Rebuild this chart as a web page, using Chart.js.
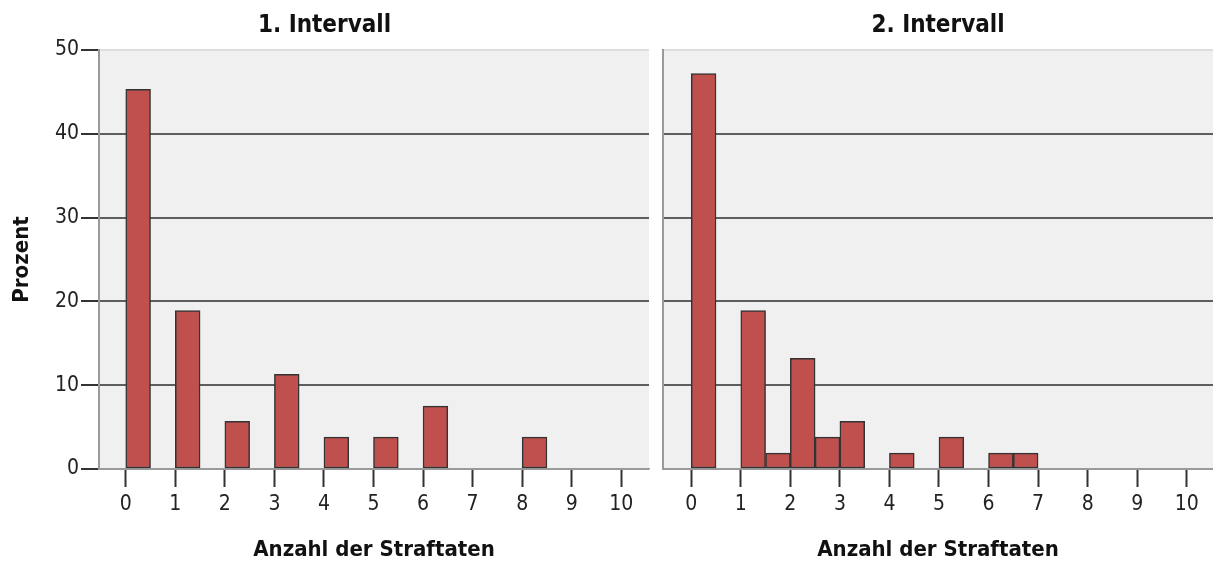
<!DOCTYPE html>
<html>
<head>
<meta charset="utf-8">
<script src="https://cdn.jsdelivr.net/npm/chart.js@4/dist/chart.umd.min.js"></script>
<style>
  html, body { margin: 0; padding: 0; background: #fff; }
  #wrap { position: relative; width: 1213px; height: 562px; }
  #c1 { position: absolute; left: 0; top: 0; }
  #c2 { position: absolute; left: 656px; top: 0; }
</style>
</head>
<body>
<div id="wrap">
  <canvas id="c1" width="656" height="562"></canvas>
  <canvas id="c2" width="557" height="562"></canvas>
</div>
<script>
// ---- data ----
const panelTitles = ['1. Intervall', '2. Intervall'];
const xAxisTitle = 'Anzahl der Straftaten';
const yAxisTitle = 'Prozent';
const binWidth = 0.5;
const binStarts = [0, 0.5, 1, 1.5, 2, 2.5, 3, 3.5, 4, 4.5, 5, 5.5, 6, 6.5, 7, 7.5, 8, 8.5, 9, 9.5, 10];
const pctInterval1 = [45.3, null, 18.9, null, 5.7, null, 11.3, null, 3.8, null, 3.8, null, 7.5, null, null, null, 3.8, null, null, null, null];
const pctInterval2 = [47.2, null, 18.9, 1.9, 13.2, 3.8, 5.7, null, 1.9, null, 3.8, null, 1.9, 1.9, null, null, null, null, null, null, null];
const yTicks = [0, 10, 20, 30, 40, 50];
const xTickValues = [0, 1, 2, 3, 4, 5, 6, 7, 8, 9, 10];

// ---- styles ----
const FONT = "'DejaVu Sans Condensed', 'DejaVu Sans', sans-serif";
Chart.defaults.font.family = FONT;
Chart.defaults.color = '#222';

const plotBg = {
  id: 'plotBg',
  beforeDraw(chart) {
    const { ctx, chartArea: a } = chart;
    ctx.save();
    ctx.fillStyle = '#f0f0f0';
    ctx.fillRect(a.left, a.top, a.right - a.left, a.bottom - a.top);
    ctx.restore();
  }
};

function makeChart(canvasId, title, values, showY, xmin, xmax, padLeft, padRight) {
  const data = binStarts.map((b, i) => ({ x: b + binWidth / 2, y: values[i] }));
  return new Chart(document.getElementById(canvasId), {
    type: 'bar',
    data: {
      datasets: [{
        data: data,
        backgroundColor: '#c0504d',
        borderColor: '#333',
        borderWidth: 1.5,
        borderSkipped: false,
        barPercentage: 1,
        categoryPercentage: 1
      }]
    },
    options: {
      responsive: false,
      animation: false,
      layout: { padding: { left: padLeft, right: padRight, top: 0, bottom: 0 } },
      plugins: {
        legend: { display: false },
        tooltip: { enabled: false },
        title: {
          display: true,
          text: title,
          font: { size: 24, weight: 'bold', lineHeight: 1.2 },
          color: '#111',
          padding: { top: 11, bottom: 10.2 }
        }
      },
      scales: {
        x: {
          type: 'linear',
          offset: false,
          min: xmin,
          max: xmax,
          afterBuildTicks(scale) {
            scale.ticks = xTickValues.map(v => ({ value: v }));
          },
          afterFit(scale) { scale.height = 93; },
          ticks: {
            font: { size: 21 },
            color: '#222',
            padding: 5,
            maxRotation: 0,
            autoSkip: false
          },
          grid: {
            drawOnChartArea: false,
            drawTicks: true,
            offset: false,
            tickLength: 18,
            tickColor: '#333',
            tickWidth: 2
          },
          border: { display: true, color: '#9a9a9a', width: 1.5 },
          title: {
            display: true,
            text: xAxisTitle,
            font: { size: 22, weight: 'bold', lineHeight: 1.1 },
            color: '#111',
            padding: { top: 0, bottom: 0 }
          }
        },
        y: {
          min: 0,
          max: 50,
          afterBuildTicks(scale) {
            scale.ticks = yTicks.map(v => ({ value: v }));
          },
          afterFit(scale) { scale.width = showY ? 99 : 0; },
          ticks: {
            display: showY,
            font: { size: 21 },
            color: '#222',
            padding: 2
          },
          grid: {
            drawTicks: showY,
            tickLength: 18,
            tickColor: '#333',
            tickWidth: 2,
            lineWidth: 2,
            color: (c) => {
              if (c.tick && c.tick.value === 50) return '#dddddd';
              if (c.tick && c.tick.value === 0) return '#9a9a9a';
              return '#5e5e5e';
            }
          },
          border: { display: true, color: '#9a9a9a', width: 2 },
          title: {
            display: showY,
            text: yAxisTitle,
            font: { size: 22, weight: 'bold', lineHeight: 1.2 },
            color: '#111',
            padding: { top: 9, bottom: 0 }
          }
        }
      }
    },
    plugins: [plotBg]
  });
}

makeChart('c1', panelTitles[0], pctInterval1, true, -0.54, 10.56, 0, 7);
makeChart('c2', panelTitles[1], pctInterval2, false, -0.57, 10.53, 7, 0);
</script>
</body>
</html>
